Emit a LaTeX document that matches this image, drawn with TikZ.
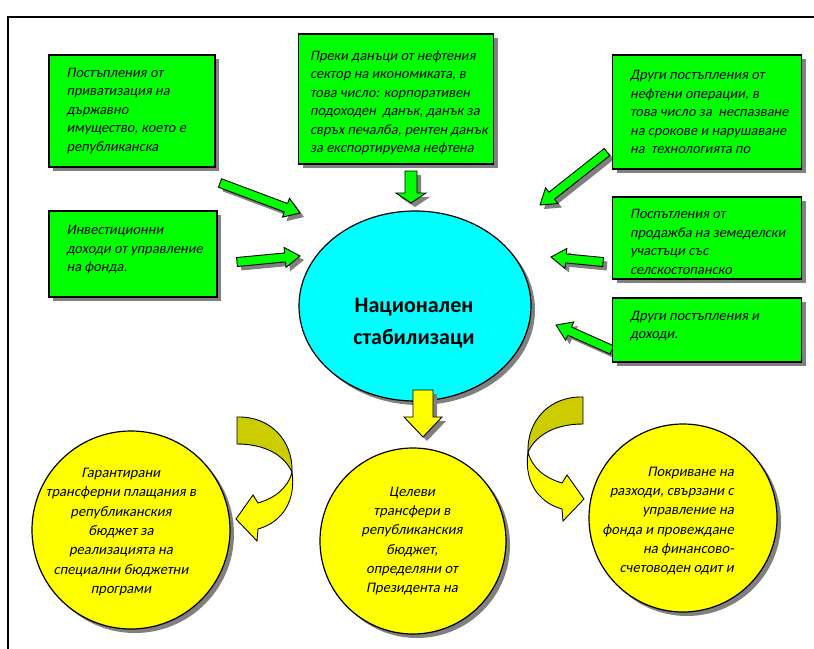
\documentclass[tikz,border=0pt]{standalone}
\usepackage{fontspec}
\setmainfont{Carlito}[AutoFakeSlant=0.2]
\usepackage{xcolor}
\usepackage{tikz}
\usetikzlibrary{calc,shadows,shapes.geometric}

\definecolor{boxgreen}{HTML}{00FF00}
\definecolor{fondcyan}{HTML}{00FFFF}
\definecolor{outyellow}{HTML}{FFFF00}
\definecolor{backyellow}{HTML}{CCCC00}
\definecolor{shadowgray}{HTML}{808080}

% block arrow from #1 to #2: half shaft #3, half head #4, head length #5, fill #6
\newcommand{\blockarrow}[6]{%
  \coordinate (neck) at ($(#2)!#5!(#1)$);
  \filldraw[fill=#6, grayshadow, line width=0.9pt]
    ($(#1)!#3!90:(#2)$) -- ($(neck)!#3!90:(#2)$) -- ($(neck)!#4!90:(#2)$)
    -- (#2) -- ($(neck)!#4!-90:(#2)$) -- ($(neck)!#3!-90:(#2)$)
    -- ($(#1)!#3!-90:(#2)$) -- cycle;
}

\begin{document}
\begin{tikzpicture}[x=1pt, y=-1pt,
  grayshadow/.style={drop shadow={shadow xshift=4pt, shadow yshift=-4pt, fill=shadowgray, opacity=1}},
  greenbox/.style={rectangle, draw, fill=boxgreen, line width=1.3pt, grayshadow, inner sep=0pt},
  boxtext/.style={anchor=west, inner sep=0pt, align=left, font=\fontsize{14.4}{18.5}\selectfont\itshape},
  yellowdisc/.style={circle, draw, fill=outyellow, line width=1.2pt, grayshadow},
  disctext/.style={inner sep=0pt, font=\fontsize{14.6}{19.3}\selectfont\itshape}]
  \useasboundingbox (0,0) rectangle (814,648);
  \draw[line width=1.5pt] (8,17) rectangle (830,660);

  % green arrows towards the fund
  \coordinate (a1s) at (220,183); \coordinate (a1e) at (300,213);
  \coordinate (a2s) at (237,262); \coordinate (a2e) at (300,256);
  \coordinate (a3s) at (411,171); \coordinate (a3e) at (411,203);
  \coordinate (a4s) at (607,152); \coordinate (a4e) at (540,205);
  \coordinate (a5s) at (603,262); \coordinate (a5e) at (551,257);
  \coordinate (a6s) at (612,350); \coordinate (a6e) at (556,325);
  \blockarrow{a1s}{a1e}{4.5pt}{10pt}{15pt}{boxgreen}
  \blockarrow{a2s}{a2e}{4.5pt}{10pt}{15pt}{boxgreen}
  \blockarrow{a3s}{a3e}{6pt}{15pt}{10pt}{boxgreen}
  \blockarrow{a4s}{a4e}{4.5pt}{10pt}{15pt}{boxgreen}
  \blockarrow{a5s}{a5e}{4.5pt}{10pt}{15pt}{boxgreen}
  \blockarrow{a6s}{a6e}{4.5pt}{10pt}{15pt}{boxgreen}

  % sources of income
  \node[greenbox, minimum width=166pt, minimum height=112pt] (privat) at (132,111) {};
  \node[boxtext] (privattext) at ([xshift=18pt]privat.west)
    {Постъпления от\\приватизация на\\държавно\\имущество, което е\\републиканска};
  \node[greenbox, minimum width=195pt, minimum height=130pt] (naftatax) at (396,99) {};
  \node[boxtext] (naftataxtext) at ([xshift=12pt, yshift=-4pt]naftatax.west)
    {Преки данъци от нефтения\\сектор на икономиката, в\\това число: корпоративен\\подоходен\ \ данък, данък за\\свръх печалба, рентен данък\\за експортируема нефтена};
  \node[greenbox, minimum width=189pt, minimum height=114pt] (naftaother) at (707,112) {};
  \node[boxtext] (naftaothertext) at ([xshift=18pt]naftaother.west)
    {Други постъпления от\\нефтени операции, в\\това число за\ \ неспазване\\на срокове и нарушаване\\на\ \ технологията по};
  \node[greenbox, minimum width=168pt, minimum height=86pt] (invest) at (133,254) {};
  \node[boxtext] (investtext) at ([xshift=18pt, yshift=4pt]invest.west)
    {Инвестиционни\\доходи от управление\\на фонда.};
  \node[greenbox, minimum width=189pt, minimum height=82pt] (zemya) at (707,238) {};
  \node[boxtext] (zemyatext) at ([xshift=18pt, yshift=-4pt]zemya.west)
    {Поспътления от\\продажба на земеделски\\участъци със\\селскостопанско};
  \node[greenbox, minimum width=189pt, minimum height=64pt] (drugi) at (707,330) {};
  \node[boxtext] (drugitext) at ([xshift=18pt, yshift=4pt]drugi.west)
    {Други постъпления и\\доходи.};

  % the fund
  \node[ellipse, draw, fill=fondcyan, line width=1.2pt, grayshadow, minimum width=232pt, minimum height=190pt] (fond) at (415,306) {};
  \node[align=center, inner sep=0pt, font=\fontsize{22}{32}\selectfont\bfseries\itshape] (fondtext) at (414,323)
    {Национален\\стабилизаци};

  % yellow arrow down
  \coordinate (ys) at (423,390); \coordinate (ye) at (423,437);
  \blockarrow{ys}{ye}{10pt}{19pt}{20pt}{outyellow}

  % uses of the fund
  \node[yellowdisc, minimum size=198pt] (garant) at (131,530) {};
  \node[disctext, align=center] (garanttext) at (121,532)
    {Гарантирани\\трансферни плащания в\\републиканския\\бюджет за\\реализацията на\\специални бюджетни\\програми};
  \node[yellowdisc, minimum size=186pt] (celevi) at (413,541) {};
  \node[disctext, align=center] (celevitext) at (412,541)
    {Целеви\\трансфери в\\републиканския\\бюджет,\\определяни от\\Президента на};
  \node[yellowdisc, minimum size=188pt] (razhodi) at (683,518) {};
  \node[disctext, align=right, anchor=east] (razhoditext) at (734,521)
    {Покриване на\\разходи, свързани с\\управление на\\фонда и провеждане\\на финансово-\\счетоводен одит и};

  % curved arrows
  \begin{scope}[line width=0.9pt, grayshadow]
    \filldraw[fill=backyellow] (237,417) .. controls (270,416) and (293,440) .. (292,472)
      .. controls (284,455) and (265,444) .. (237,444) -- cycle;
    \filldraw[fill=outyellow] (292,472) .. controls (296,500) and (283,522) .. (258,529) -- (257,541) -- (236,519)
      -- (253,495) -- (258,503) .. controls (275,498) and (288,488) .. (292,472) -- cycle;
    \filldraw[fill=backyellow] (583,397) .. controls (550,396) and (527,420) .. (528,452)
      .. controls (536,435) and (555,424) .. (583,424) -- cycle;
    \filldraw[fill=outyellow] (528,452) .. controls (524,480) and (537,502) .. (562,509) -- (563,521) -- (584,499)
      -- (567,475) -- (562,483) .. controls (545,478) and (532,468) .. (528,452) -- cycle;
  \end{scope}
\end{tikzpicture}
\end{document}
